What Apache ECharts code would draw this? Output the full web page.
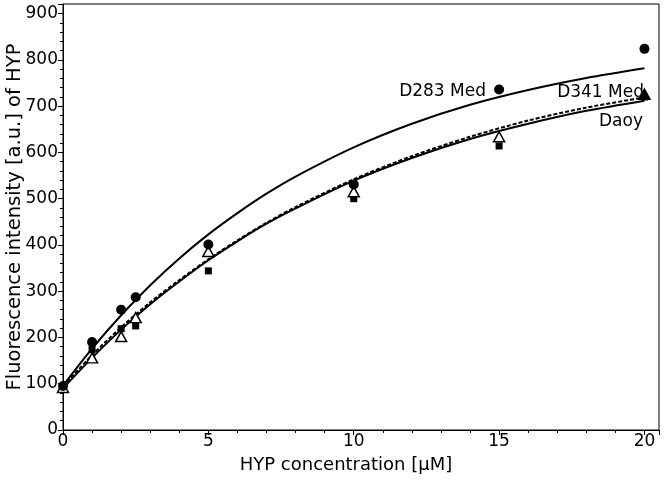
<!DOCTYPE html>
<html>
<head>
<meta charset="utf-8">
<script src="https://cdn.jsdelivr.net/npm/echarts@6/dist/echarts.min.js"></script>
<style>
html,body{margin:0;padding:0;background:#fff;}
#c{width:664px;height:480px;}
</style>
</head>
<body>
<div id="c"></div>
<script>
// Measured data points
const concX = [0, 1, 2, 2.5, 5, 10, 15, 20];
const d283 = [95, 190, 260, 287, 401, 531, 736, 824];
const d341 = [92, 156, 202, 243, 386, 515, 634, 726];
const daoy = [88, 174, 219, 225, 344, 500, 614, 720];

// Fitted curves
const fitX = [0, 1, 2, 3, 4, 5, 6, 7, 8, 10, 12, 14, 16, 18, 20];
const fitD283 = [96, 176, 248, 313, 371, 423, 469, 511, 548, 611, 662, 703, 735, 761, 782];
const fitD341 = [94, 162, 222, 276, 324, 369, 410, 448, 482, 542, 592, 634, 669, 697, 719];
const fitDaoy = [90, 156, 217, 272, 321, 367, 408, 446, 479, 539, 588, 629, 662, 690, 712];

const labels = ['D283 Med', 'D341 Med', 'Daoy'];
const xTitle = 'HYP concentration [μM]';
const yTitle = 'Fluorescence intensity [a.u.] of HYP';

const pairs = (xs, ys) => xs.map((x, i) => [x, ys[i]]);
const FONT = 'DejaVu Sans';

const chart = echarts.init(document.getElementById('c'), null, {renderer: 'canvas'});

const lineSeries = (data, dashed) => ({
  type: 'line', data: data, smooth: 0.3, showSymbol: false, silent: true,
  lineStyle: {color: '#000', width: 2, type: dashed ? [4, 2] : 'solid'},
  z: 2
});

const triData = pairs(concX, d341).map((p, i) => (
  i === concX.length - 1
    ? {value: p, itemStyle: {color: '#000'}}
    : {value: p}
));

chart.setOption({
  animation: false,
  backgroundColor: '#fff',
  grid: {left: 63, right: 5, top: 4, bottom: 50, containLabel: false, outerBoundsMode: 'none',
         show: true, borderColor: '#000', borderWidth: 1, backgroundColor: 'transparent'},
  xAxis: {
    type: 'value', min: 0, max: 20.5, interval: 5,
    name: xTitle, nameLocation: 'middle', nameGap: 26, nameMoveOverlap: false,
    nameTextStyle: {fontFamily: FONT, fontSize: 18, color: '#000', padding: [0, 30, 0, 0]},
    axisLine: {show: true, onZero: false, lineStyle: {color: '#000', width: 1}},
    axisTick: {show: true, inside: false, length: 5, lineStyle: {color: '#000'}},
    minorTick: {show: true, splitNumber: 5, length: 3, lineStyle: {color: '#000'}},
    axisLabel: {fontFamily: FONT, fontSize: 17, color: '#000', margin: 3, showMaxLabel: false},
    splitLine: {show: false}
  },
  yAxis: {
    type: 'value', min: 0, max: 921, interval: 100,
    name: yTitle, nameLocation: 'middle', nameGap: 38, nameRotate: 90, nameMoveOverlap: false,
    nameTextStyle: {fontFamily: FONT, fontSize: 19.5, color: '#000'},
    axisLine: {show: true, onZero: false, lineStyle: {color: '#000', width: 1}},
    axisTick: {show: true, inside: false, length: 5, lineStyle: {color: '#000'}},
    minorTick: {show: true, splitNumber: 5, length: 3, lineStyle: {color: '#000'}},
    axisLabel: {fontFamily: FONT, fontSize: 17, color: '#000', margin: 5, showMaxLabel: false},
    splitLine: {show: false}
  },
  series: [
    lineSeries(pairs(fitX, fitD283), false),
    lineSeries(pairs(fitX, fitDaoy), false),
    lineSeries(pairs(fitX, fitD341), true),
    {type: 'scatter', name: labels[2], data: pairs(concX, daoy), symbol: 'rect', symbolSize: 7,
     itemStyle: {color: '#000', opacity: 1}, z: 3},
    {type: 'scatter', name: labels[1], data: triData, symbol: 'triangle', symbolSize: [11, 10],
     itemStyle: {color: '#fff', borderColor: '#000', borderWidth: 1.5, opacity: 1}, z: 4},
    {type: 'scatter', name: labels[0], data: pairs(concX, d283), symbol: 'circle', symbolSize: 10,
     itemStyle: {color: '#000', opacity: 1}, z: 5}
  ],
  graphic: [
    {type: 'text', x: 486, y: 92, style: {text: labels[0], font: '17px "DejaVu Sans"', fill: '#000', align: 'right', verticalAlign: 'middle'}, z: 10},
    {type: 'text', x: 644, y: 93, style: {text: labels[1], font: '17px "DejaVu Sans"', fill: '#000', align: 'right', verticalAlign: 'middle'}, z: 10},
    {type: 'text', x: 643, y: 122, style: {text: labels[2], font: '17px "DejaVu Sans"', fill: '#000', align: 'right', verticalAlign: 'middle'}, z: 10}
  ]
});
</script>
</body>
</html>
